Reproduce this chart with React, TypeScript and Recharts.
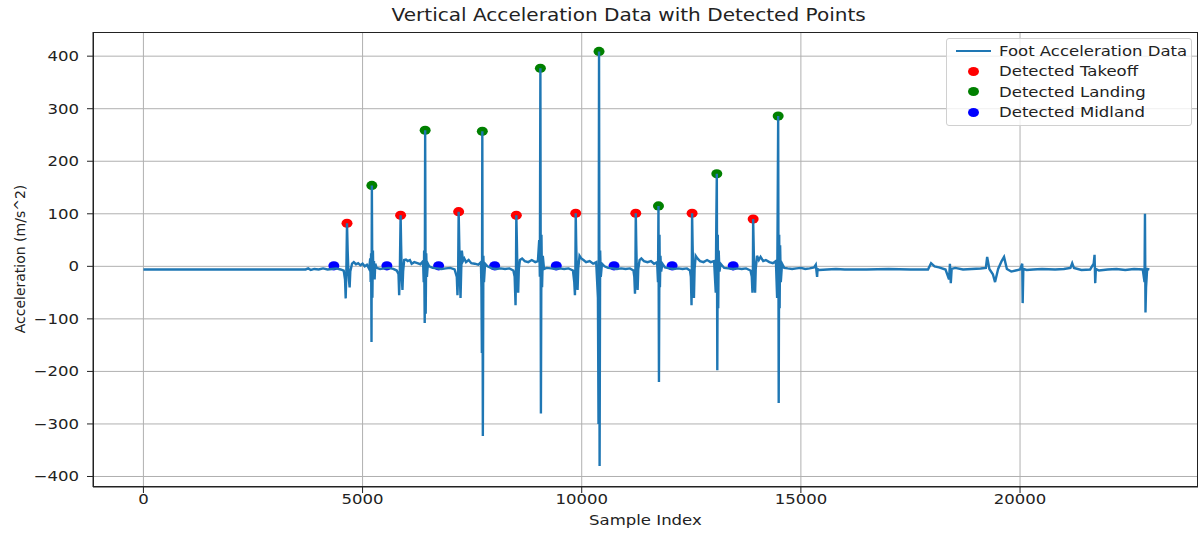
import React from "react";
import {
  ComposedChart,
  Line,
  Scatter,
  XAxis,
  YAxis,
  CartesianGrid,
} from "recharts";

// sample index, acceleration (m/s^2)
const signal: [number, number][] = [
  [0, -6], [3700, -6], [3760, -4], [3820, -7], [3900, -5], [4000, -6], [4100, -4], [4200, -6], [4300, -5], [4400, -4], [4500, -6],
  [4570, -8], [4600, -25], [4615, -61], [4630, -10], [4645, 82], [4660, 30], [4675, -5], [4690, -27], [4705, -40], [4720, -10], [4760, 5], [4800, 8], [4850, 4], [4900, 6], [4950, 2], [5000, 5], [5050, 0], [5100, 3], [5150, -5],
  [5175, 15], [5185, -30], [5195, 25], [5204, -144], [5212, 154], [5224, -60], [5236, 30], [5248, -20], [5260, 10], [5275, -25], [5290, 5], [5320, -3], [5400, -5], [5500, -4], [5600, -3], [5700, -5], [5780, -8],
  [5820, -15], [5835, -55], [5850, -10], [5868, 97], [5880, 40], [5895, -20], [5910, -45], [5925, -10], [5950, 12], [5990, 13], [6030, 10], [6080, 12], [6120, 5], [6180, 8], [6250, 6], [6320, 4],
  [6380, 10], [6395, -30], [6405, 30], [6418, -108], [6428, 259], [6440, -90], [6452, 25], [6468, -20], [6490, 5], [6520, 0], [6600, -3], [6700, -4], [6800, -5], [6900, -4], [7000, -3], [7100, -6],
  [7150, -20], [7165, -55], [7180, -15], [7192, 104], [7205, 50], [7220, -20], [7235, -60], [7250, -10], [7265, 30], [7290, 10], [7320, 15], [7360, 8], [7420, 12], [7480, 6], [7560, 5], [7640, 3],
  [7700, 8], [7712, -40], [7722, -165], [7732, 257], [7744, -323], [7756, 20], [7770, -30], [7795, 5], [7850, 0], [7950, -4], [8050, -5], [8150, -4], [8250, -5], [8350, -4], [8440, -8],
  [8470, -20], [8490, -74], [8500, -10], [8508, 97], [8520, 50], [8535, -20], [8550, -50], [8565, -5], [8590, 12], [8640, 15], [8700, 10], [8780, 8], [8860, 12], [8940, 8], [9000, 10],
  [9030, 50], [9045, -20], [9057, 377], [9069, -280], [9081, 60], [9095, -40], [9112, 20], [9140, -5], [9200, -3], [9300, -4], [9400, -5], [9500, -4], [9600, -5], [9700, -4], [9800, -8],
  [9830, -30], [9845, -55], [9855, -10], [9863, 101], [9875, 40], [9890, -20], [9905, -45], [9920, -5], [9950, 20], [9990, 15], [10040, 12], [10100, 8], [10180, 10], [10260, 5], [10330, 8],
  [10370, -60], [10383, -300], [10395, 409], [10408, -380], [10420, 30], [10435, -20], [10462, 5], [10520, 0], [10600, -3], [10700, -4], [10800, -5], [10900, -4], [11000, -5], [11100, -4], [11180, -8],
  [11200, -20], [11215, -52], [11225, -10], [11233, 101], [11245, 40], [11260, -20], [11275, -45], [11290, -5], [11320, 12], [11360, 15], [11420, 10], [11500, 8], [11580, 10], [11650, 5], [11720, 8],
  [11740, -30], [11751, 115], [11762, -220], [11774, 60], [11784, -40], [11796, 20], [11812, -10], [11840, 5], [11900, -2], [12000, -4], [12100, -5], [12200, -4], [12300, -5], [12400, -4], [12470, -8],
  [12490, -20], [12505, -74], [12512, -10], [12518, 101], [12530, 40], [12545, -20], [12560, -60], [12575, -5], [12600, 20], [12640, 15], [12700, 10], [12780, 8], [12860, 12], [12940, 8], [13020, 10],
  [13058, -50], [13070, 80], [13082, 176], [13093, -198], [13104, 60], [13114, -80], [13125, 30], [13142, -10], [13170, 5], [13250, -3], [13350, -4], [13450, -5], [13550, -4], [13650, -5], [13750, -4], [13850, -8],
  [13880, -20], [13895, -50], [13905, -10], [13911, 90], [13925, 30], [13940, -20], [13955, -50], [13970, -5], [14000, 20], [14040, 12], [14080, 18], [14140, 10], [14200, 12], [14280, 8], [14360, 6], [14430, 10],
  [14458, -60], [14470, 100], [14482, 286], [14494, -260], [14505, 60], [14515, -80], [14526, 40], [14542, -30], [14570, 5], [14620, -3], [14700, -4], [14800, -5], [14900, -4], [15000, -3], [15100, -5], [15200, -4],
  [15300, -2], [15340, 3], [15370, -20], [15380, -5], [15420, -7], [15600, -6], [15800, -5], [16000, -6], [16500, -6], [17000, -5], [17500, -6], [17900, -6],
  [17970, 6], [18050, 0], [18150, -2], [18300, -6], [18380, -25], [18400, 5], [18420, -32], [18440, -5], [18520, -3], [18700, -6], [18900, -5], [19100, -4],
  [19220, -3], [19250, 18], [19300, -5], [19380, -15], [19430, -30], [19500, -5], [19580, 10], [19635, 18], [19700, -5], [19800, -10], [19900, -8], [20000, -6],
  [20050, 5], [20060, -70], [20075, -5], [20150, -7], [20300, -6], [20500, -5], [20800, -6], [21000, -5], [21150, -3], [21190, 6], [21230, -3], [21400, -7], [21600, -6],
  [21680, 5], [21700, 22], [21715, -32], [21730, -5], [21800, -8], [22000, -6], [22200, -5], [22400, -7], [22600, -5], [22800, -6],
  [22840, -30], [22850, 100], [22862, -88], [22875, -40], [22900, -5], [22950, -6],
];

const takeoffX = [4645, 5868, 7192, 8508, 9863, 11233, 12518, 13911];
const takeoffY = [82, 97, 104, 97, 101, 101, 101, 90];
const landingX = [5212, 6428, 7732, 9057, 10395, 11751, 13082, 14482];
const landingY = [154, 259, 257, 377, 409, 115, 176, 286];
const midlandX = [4345, 5555, 6735, 8014, 9420, 10737, 12062, 13455];
const midlandY = [1, 1, 1, 1, 1, 1, 1, 1];

const xTicks = [0, 5000, 10000, 15000, 20000];
const yTicks = [-400, -300, -200, -100, 0, 100, 200, 300, 400];

const lineData = signal.map(([x, y]) => ({ x, y }));
const toPoints = (xs: number[], ys: number[]) => xs.map((x, i) => ({ x, y: ys[i] }));

const FONT = "'DejaVu Sans', sans-serif";
const BLUE = "#1f77b4";
const SX = 1.18; // the reference is stretched sideways

const dotShape = (color: string) => (p: any) =>
  <ellipse cx={p.cx} cy={p.cy} rx={5.5} ry={4.6} fill={color} />;

const fmt = (v: number) => (v < 0 ? "\u2212" + Math.abs(v) : String(v));

const XTick = (p: any) => (
  <text transform={`translate(${p.x},${p.y}) scale(${SX},1)`} textAnchor="middle" dy="0.71em" fill="#222" fontSize={14} fontFamily={FONT}>
    {fmt(p.payload.value)}
  </text>
);
const YTick = (p: any) => (
  <text transform={`translate(${p.x},${p.y}) scale(${SX},1)`} textAnchor="end" dy="0.355em" fill="#222" fontSize={14} fontFamily={FONT}>
    {fmt(p.payload.value)}
  </text>
);

const legendItems = [
  { label: "Foot Acceleration Data", color: BLUE, line: true },
  { label: "Detected Takeoff", color: "#ff0000" },
  { label: "Detected Landing", color: "#008000" },
  { label: "Detected Midland", color: "#0000ff" },
];

export default function App() {
  return (
    <div style={{ position: "absolute", left: 0, top: 0, width: 1199, height: 536, background: "#fff", fontFamily: FONT, color: "#222" }}>
      <div style={{ position: "absolute", left: 93, width: 1105, top: 5, textAlign: "center", fontSize: 17, transform: `scaleX(${SX})`, transformOrigin: "646px 0", whiteSpace: "nowrap" }}>
        Vertical Acceleration Data with Detected Points
      </div>
      <ComposedChart width={1199} height={536} data={lineData} margin={{ top: 32, right: 1, bottom: 0, left: 0 }}>
        <CartesianGrid stroke="#b0b0b0" strokeWidth={1} horizontalValues={yTicks} verticalValues={xTicks} />
        <XAxis
          type="number"
          dataKey="x"
          domain={[-1150, 24060]}
          ticks={xTicks}
          allowDataOverflow
          height={49}
          tick={XTick}
          tickSize={6}
          tickMargin={1}
          stroke="#222"
        />
        <YAxis
          type="number"
          dataKey="y"
          domain={[-420, 446]}
          ticks={yTicks}
          allowDataOverflow
          width={93}
          tick={YTick}
          tickSize={6}
          tickMargin={8}
          stroke="#222"
        />
        <Scatter data={toPoints(takeoffX, takeoffY)} dataKey="y" fill="#ff0000" shape={dotShape("#ff0000")} isAnimationActive={false} zIndex={100} />
        <Scatter data={toPoints(landingX, landingY)} dataKey="y" fill="#008000" shape={dotShape("#008000")} isAnimationActive={false} zIndex={100} />
        <Scatter data={toPoints(midlandX, midlandY)} dataKey="y" fill="#0000ff" shape={dotShape("#0000ff")} isAnimationActive={false} zIndex={100} />
        <Line dataKey="y" stroke={BLUE} strokeWidth={2.4} dot={false} activeDot={false} isAnimationActive={false} zIndex={700} />
      </ComposedChart>
      <div style={{ position: "absolute", left: 93, top: 32, width: 1105, height: 455, boxSizing: "border-box", border: "1px solid #222", pointerEvents: "none" }} />
      <div style={{ position: "absolute", left: 93, width: 1105, top: 512, textAlign: "center", fontSize: 14, transform: `scaleX(${SX})`, transformOrigin: "553px 0" }}>
        Sample Index
      </div>
      <div style={{ position: "absolute", left: 20, top: 259, fontSize: 14, whiteSpace: "nowrap", transform: "translate(-50%,-50%) rotate(-90deg)" }}>
        Acceleration (m/s^2)
      </div>
      <div style={{ position: "absolute", left: 946, top: 38, width: 246, height: 88, boxSizing: "border-box", border: "1px solid #d0d0d0", borderRadius: 3, background: "rgba(255,255,255,0.8)", fontSize: 14 }}>
        {legendItems.map((it, i) => (
          <div key={it.label} style={{ position: "absolute", left: 0, top: 1.5 + i * 20.6, height: 20, width: 246, display: "flex", alignItems: "center" }}>
            <div style={{ width: 52, display: "flex", justifyContent: "center" }}>
              {it.line ? (
                <div style={{ width: 35, height: 2, background: it.color }} />
              ) : (
                <div style={{ width: 11, height: 9, borderRadius: "50%", background: it.color }} />
              )}
            </div>
            <span style={{ display: "inline-block", transform: `scaleX(${SX})`, transformOrigin: "0 50%", whiteSpace: "nowrap" }}>{it.label}</span>
          </div>
        ))}
      </div>
    </div>
  );
}
